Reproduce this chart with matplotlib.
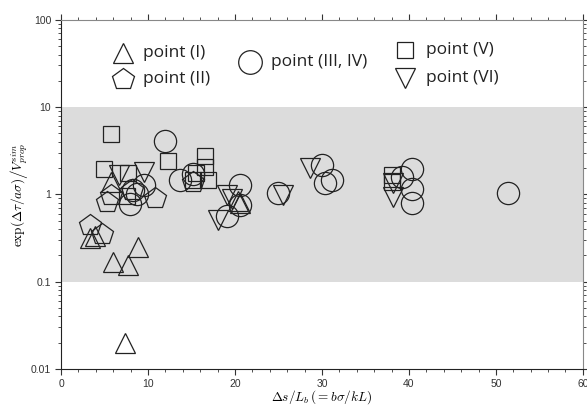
import numpy as np
import matplotlib.pyplot as plt
from matplotlib.ticker import MultipleLocator, LogLocator, NullFormatter, FixedFormatter, FixedLocator

plt.rcParams['mathtext.fontset'] = 'cm'
plt.rcParams['font.family'] = ['Liberation Sans', 'DejaVu Sans']

# point (I) - up triangles
x_I = [7.3, 6.0, 7.7, 8.9, 3.3, 3.9, 5.8, 20.6, 20.3]
y_I = [0.020, 0.168, 0.155, 0.25, 0.32, 0.33, 1.38, 0.79, 0.85]
# point (II) - pentagons
x_II = [3.3, 4.7, 5.3, 5.8, 10.8, 15.2, 8.2]
y_II = [0.45, 0.35, 0.82, 0.98, 0.90, 1.40, 1.12]
# point (III, IV) - circles
x_III = [11.9, 13.7, 15.2, 20.6, 20.6, 19.1, 25.0, 30.0, 30.3, 31.1,
         40.3, 39.2, 40.4, 40.4, 51.4, 7.9, 8.7, 9.5, 8.3]
y_III = [4.08, 1.46, 1.70, 1.28, 0.75, 0.56, 1.03, 2.17, 1.35, 1.46,
         1.93, 1.58, 1.15, 0.79, 1.03, 0.78, 1.00, 1.27, 1.12]
# point (V) - squares
x_V = [5.75, 4.9, 12.3, 16.5, 16.5, 16.9, 15.5, 15.2, 7.7, 7.6, 38.1, 38.1]
y_V = [4.9, 1.95, 2.4, 2.75, 2.06, 1.46, 1.75, 1.45, 1.75, 0.95, 1.66, 1.40]
# point (VI) - down triangles
x_VI = [6.7, 9.5, 19.1, 18.0, 19.6, 25.5, 28.6, 38.2, 38.2]
y_VI = [1.66, 1.80, 0.98, 0.51, 0.88, 0.98, 2.0, 1.35, 0.93]

fig = plt.figure(figsize=(5.87, 4.05), dpi=100)
ax = fig.add_axes([0.104, 0.089, 0.889, 0.862])

ax.axhspan(0.1, 10, color='#dcdcdc', lw=0, zorder=0)

kw = dict(ls='none', mfc='none', mec='#222222', mew=0.9, zorder=3)
ax.plot(x_I, y_I, marker='^', ms=15, **kw)
ax.plot(x_II, y_II, marker='p', ms=16, **kw)
ax.plot(x_III, y_III, marker='o', ms=16, **kw)
ax.plot(x_V, y_V, marker='s', ms=12, **kw)
ax.plot(x_VI, y_VI, marker='v', ms=15, **kw)

# legend drawn by hand
leg = [('^', 15, 0.118, 0.905, 'point (I)'),
       ('p', 16, 0.118, 0.830, 'point (II)'),
       ('o', 17, 0.362, 0.878, 'point (III, IV)'),
       ('s', 12, 0.660, 0.913, 'point (V)'),
       ('v', 15, 0.660, 0.833, 'point (VI)')]
for m, s, lx, ly, lab in leg:
    ax.plot([lx], [ly], marker=m, ms=s, transform=ax.transAxes,
            ls='none', mfc='none', mec='#222222', mew=0.9, clip_on=False)
    ax.text(lx + 0.04, ly, lab, transform=ax.transAxes, fontsize=12.5,
            va='center', ha='left', family=['Open Sans', 'DejaVu Sans'], color='#222222')

ax.set_xlim(0, 60)
ax.set_yscale('log')
ax.set_ylim(0.01, 100)
ax.xaxis.set_major_locator(MultipleLocator(10))
ax.xaxis.set_minor_locator(MultipleLocator(2))
ax.yaxis.set_major_locator(FixedLocator([0.01, 0.1, 1, 10, 100]))
ax.yaxis.set_major_formatter(FixedFormatter(['0.01', '0.1', '1', '10', '100']))
ax.yaxis.set_minor_locator(LogLocator(base=10, subs=np.arange(2, 10)))
ax.yaxis.set_minor_formatter(NullFormatter())

ax.tick_params(which='both', direction='out', top=True, right=True,
               labeltop=False, labelright=False, labelsize=7.5, colors='#333333', pad=3)
ax.tick_params(which='major', length=4, width=0.8)
ax.tick_params(which='minor', length=2, width=0.6)

ax.spines['left'].set_color('#222222')
ax.spines['bottom'].set_color('#222222')
ax.spines['top'].set_color('#888888')
ax.spines['right'].set_color('#888888')

ax.set_xlabel(r'$\Delta s/L_b\,(=b\sigma/kL)$', fontsize=9.5, labelpad=0)
ax.set_ylabel(r'$\exp(\Delta\tau/a\sigma)\left/V_{prop}^{sim}\right.$', fontsize=9.5, labelpad=1)

fig.savefig('out.png', dpi=100)
